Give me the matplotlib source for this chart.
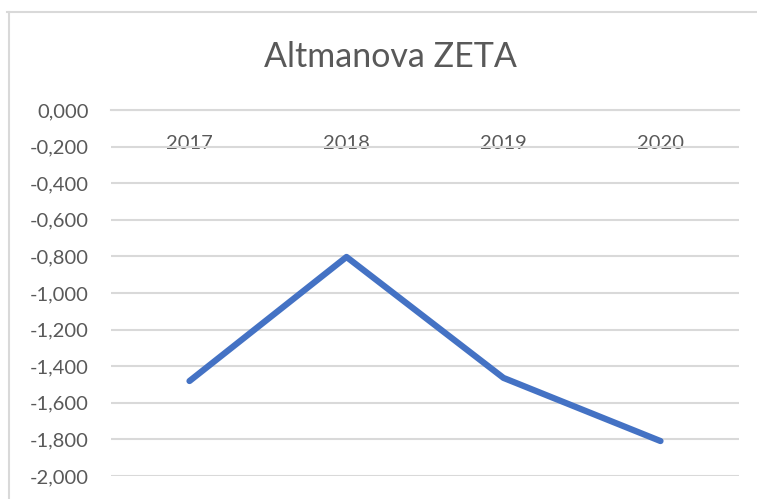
import matplotlib
matplotlib.use("Agg")
import matplotlib.pyplot as plt
from matplotlib.lines import Line2D

years = ["2017", "2018", "2019", "2020"]
zeta = [-1.481, -0.803, -1.464, -1.809]
yticks = [0.0, -0.2, -0.4, -0.6, -0.8, -1.0, -1.2, -1.4, -1.6, -1.8, -2.0]

plt.rcParams['font.family'] = ['Lato', 'DejaVu Sans']

W, H = 757, 499
fig = plt.figure(figsize=(W / 100, H / 100), dpi=100)
ax = fig.add_axes([111 / W, 1 - 476 / H, (739 - 111) / W, (476 - 110) / H])

ax.spines['bottom'].set_position(('data', 0))

xpos = [i + 0.5 for i in range(len(years))]
ax.plot(xpos, zeta, color="#4472C4", lw=4.5, solid_capstyle="round", solid_joinstyle="round", zorder=3)

ax.set_xlim(0, len(years))
ax.set_ylim(-2.0, 0.0)
ax.set_yticks(yticks)
ax.set_yticklabels([f"{v:.3f}".replace(".", ",") for v in yticks], color="#595959", fontsize=14.5)
ax.grid(axis="y", color="#d9d9d9", lw=1.5, zorder=0)
ax.tick_params(axis="y", length=0, pad=16)

ax.set_xticks(xpos)
ax.set_xticklabels(years, color="#595959", fontsize=14.5)
ax.spines['bottom'].set_color("#d9d9d9")
ax.spines['bottom'].set_linewidth(1.5)
ax.tick_params(axis="x", length=0, pad=18)
for s in ["top", "right", "left"]:
    ax.spines[s].set_visible(False)

fig.text(390 / W, 1 - 57 / H, "Altmanova ZETA", ha="center", va="center", fontsize=24.5, color="#595959")

fig.add_artist(Line2D([7 / W, 1], [1 - 11.5 / H] * 2, transform=fig.transFigure, color="#d9d9d9", lw=1.5))
fig.add_artist(Line2D([8.5 / W] * 2, [0, 1 - 11.5 / H], transform=fig.transFigure, color="#d9d9d9", lw=1.5))

fig.savefig("out.png", dpi=100)
